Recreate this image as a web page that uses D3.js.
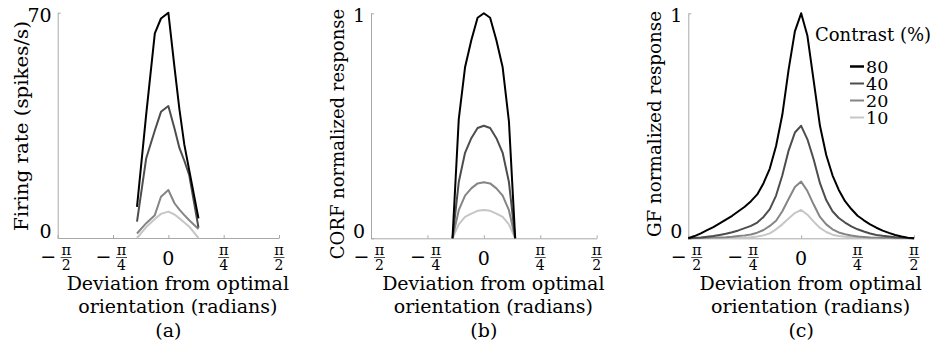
<!DOCTYPE html>
<html>
<head>
<meta charset="utf-8">
<script src="https://cdn.jsdelivr.net/npm/d3@7"></script>
<style>
  body { margin: 0; background: #fff; }
  svg { display: block; font-family: "DejaVu Serif", serif; }
</style>
</head>
<body>
<svg id="chart" width="938" height="347"></svg>
<script>
//
// Data
//
// Angles are in degrees (deviation from optimal orientation).

const contrasts = [80, 40, 20, 10];
const xTickValues = [-Math.PI / 2, -Math.PI / 4, 0, Math.PI / 4, Math.PI / 2];
const xTickLabels = ["-π/2", "-π/4", "0", "π/4", "π/2"];

// (a) recorded firing rate, spikes/s
const anglesA = [-25.5, -18, -11, -6, 0, 5, 9, 13, 17, 24.5];
const rateA80 = [9.7, 38.5, 63.6, 68.2, 70, 53, 40, 29, 21, 6.1];
const rateA40 = [5.1, 24.8, 33.4, 39.2, 41, 34, 28, 24, 19.5, 3.2];
const rateA20 = [1.4, 4.6, 7.1, 12.8, 14.9, 10.8, 8.8, 7.1, 5.5, 2.8];
const rateA10 = [0, 3.4, 5.9, 7.5, 8.2, 7.3, 6.1, 4.8, 3.5, 0];

// (b) CORF normalized response
const anglesB = [-25, -20, -15, -10, -5, 0, 5, 10, 15, 20, 25];
const corfB80 = [0, 0.53, 0.76, 0.88, 0.98, 1, 0.98, 0.88, 0.76, 0.52, 0];
const corfB40 = [0, 0.25, 0.38, 0.445, 0.49, 0.5, 0.49, 0.445, 0.38, 0.25, 0];
const corfB20 = [0, 0.125, 0.19, 0.222, 0.244, 0.249, 0.244, 0.222, 0.19, 0.125, 0];
const corfB10 = [0, 0.062, 0.095, 0.11, 0.122, 0.126, 0.122, 0.11, 0.095, 0.062, 0];

// (c) GF normalized response
const anglesC = [-90, -85, -80, -75, -70, -65, -60, -55, -50, -45, -40, -35, -30, -25, -20, -15, -10, -5, 0,
  5, 10, 15, 20, 25, 30, 35, 40, 45, 50, 55, 60, 65, 70, 75, 80, 85, 90];
const gfC80 = [0, 0.01, 0.022, 0.036, 0.05, 0.066, 0.083, 0.1, 0.12, 0.14, 0.165, 0.195, 0.245, 0.31, 0.41, 0.55, 0.75, 0.92, 1,
  0.9, 0.7, 0.5, 0.37, 0.28, 0.215, 0.165, 0.13, 0.1, 0.08, 0.062, 0.047, 0.034, 0.024, 0.015, 0.008, 0.003, 0];
const gfC40 = [0, 0.002, 0.004, 0.007, 0.01, 0.015, 0.02, 0.027, 0.035, 0.045, 0.055, 0.07, 0.095, 0.13, 0.19, 0.28, 0.39, 0.47, 0.5,
  0.44, 0.35, 0.245, 0.17, 0.12, 0.09, 0.07, 0.053, 0.04, 0.03, 0.021, 0.015, 0.011, 0.008, 0.005, 0.003, 0.001, 0];
const gfC20 = [0, 0.001, 0.001, 0.002, 0.003, 0.004, 0.005, 0.007, 0.01, 0.013, 0.017, 0.025, 0.037, 0.055, 0.078, 0.12, 0.175, 0.228, 0.252,
  0.21, 0.15, 0.095, 0.062, 0.04, 0.026, 0.018, 0.012, 0.008, 0.006, 0.004, 0.003, 0.002, 0.002, 0.001, 0.001, 0.001, 0];
const gfC10 = [0, 0, 0.001, 0.001, 0.001, 0.001, 0.002, 0.002, 0.003, 0.003, 0.005, 0.008, 0.013, 0.022, 0.04, 0.062, 0.088, 0.112, 0.126,
  0.105, 0.074, 0.046, 0.028, 0.016, 0.01, 0.007, 0.005, 0.003, 0.002, 0.002, 0.001, 0.001, 0.001, 0, 0, 0, 0];

//
// Layout
//

const color = d3.scaleOrdinal()
  .domain(contrasts)
  .range(["#000000", "#4d4d4d", "#858585", "#c6c6c6"]);

const panels = [
  {
    tag: "(a)", left: 57.7, right: 279, top: 12.7, bottom: 238, ymax: 70,
    yTicks: ["0", "70"], ylabel: "Firing rate (spikes/s)", ylabelX: 28, ylabelY: 126, ylabelLen: 210,
    angles: anglesA, series: [rateA80, rateA40, rateA20, rateA10],
  },
  {
    tag: "(b)", left: 371, right: 596.7, top: 13.3, bottom: 238.3, ymax: 1,
    yTicks: ["0", "1"], ylabel: "CORF normalized response", ylabelX: 344, ylabelY: 134, ylabelSize: 18,
    angles: anglesB, series: [corfB80, corfB40, corfB20, corfB10],
  },
  {
    tag: "(c)", left: 688.3, right: 914, top: 13.3, bottom: 238.3, ymax: 1,
    yTicks: ["0", "1"], ylabel: "GF normalized response", ylabelX: 661, ylabelY: 124, ylabelLen: 226,
    angles: anglesC, series: [gfC80, gfC40, gfC20, gfC10],
  },
];

const svg = d3.select("#chart");
svg.append("rect").attr("width", 938).attr("height", 347).attr("fill", "#fff");

//
// Panels
//

function mkxlabel(g, label, cx) {
  const neg = label.startsWith("-");
  const body = neg ? label.slice(1) : label;
  if (body.indexOf("/") < 0) {
    g.append("text").attr("x", cx).attr("y", 264.5)
      .attr("text-anchor", "middle").attr("font-size", 19).text(body);
    return;
  }
  const [num, den] = body.split("/");
  const fx = neg ? cx + 8.5 : cx;
  if (neg) {
    g.append("text").attr("x", cx - 9.5).attr("y", 263)
      .attr("text-anchor", "middle").attr("font-size", 19).text("−");
  }
  g.append("text").attr("x", fx).attr("y", 255)
    .attr("text-anchor", "middle").attr("font-size", 14.5).text(num);
  g.append("line")
    .attr("x1", fx - 5.5).attr("x2", fx + 5.5)
    .attr("y1", 257.5).attr("y2", 257.5)
    .attr("stroke", "#222").attr("stroke-width", 0.8);
  g.append("text").attr("x", fx).attr("y", 270)
    .attr("text-anchor", "middle").attr("font-size", 14).text(den);
}

function mkpanel(p) {
  const g = svg.append("g");
  const x = d3.scaleLinear().domain([-Math.PI / 2, Math.PI / 2]).range([p.left, p.right]);
  const y = d3.scaleLinear().domain([0, p.ymax]).range([p.bottom, p.top]);

  // axes, light grey with short inward ticks
  const xa = g.append("g")
    .attr("transform", `translate(0,${p.bottom})`)
    .call(d3.axisBottom(x).tickValues(xTickValues).tickSizeInner(-3).tickSizeOuter(0).tickFormat(""));
  const ya = g.append("g")
    .attr("transform", `translate(${p.left},0)`)
    .call(d3.axisLeft(y).tickValues([0, p.ymax]).tickSizeInner(-3).tickSizeOuter(0).tickFormat(""));
  [xa, ya].forEach((a) => {
    a.selectAll("path, line").attr("stroke", "#a8a8a8").attr("stroke-width", 1);
  });

  // curves, light ones first so black sits on top
  const line = d3.line()
    .x((d, i) => x((p.angles[i] * Math.PI) / 180))
    .y((d) => y(d));
  g.selectAll("path.curve")
    .data(p.series.map((s, i) => ({ contrast: contrasts[i], values: s })).reverse())
    .enter()
    .append("path")
    .attr("class", "curve")
    .attr("d", (d) => line(d.values))
    .attr("fill", "none")
    .attr("stroke", (d) => color(d.contrast))
    .attr("stroke-width", 2)
    .attr("stroke-linejoin", "round");

  // y tick labels
  g.append("text").attr("x", p.left - 6).attr("y", p.bottom)
    .attr("text-anchor", "end").attr("font-size", 19).text(p.yTicks[0]);
  g.append("text").attr("x", p.left - 6).attr("y", p.top + 9)
    .attr("text-anchor", "end").attr("font-size", 19).text(p.yTicks[1]);

  // x tick labels (fractions of pi)
  xTickValues.forEach((t, i) => mkxlabel(g, xTickLabels[i], x(t)));

  // axis titles and panel tag
  const mid = (p.left + p.right) / 2;
  g.append("text").attr("x", mid + 9.5).attr("y", 289.5)
    .attr("text-anchor", "middle").attr("font-size", 19).text("Deviation from optimal");
  g.append("text").attr("x", mid + 9.5).attr("y", 313)
    .attr("text-anchor", "middle").attr("font-size", 19).text("orientation (radians)");
  g.append("text").attr("x", mid).attr("y", 336.5)
    .attr("text-anchor", "middle").attr("font-size", 19).text(p.tag);
  const yl = g.append("text")
    .attr("transform", `translate(${p.ylabelX},${p.ylabelY}) rotate(-90)`)
    .attr("text-anchor", "middle").attr("font-size", p.ylabelSize || 19)
    .text(p.ylabel);
  if (p.ylabelLen) {
    yl.attr("textLength", p.ylabelLen).attr("lengthAdjust", "spacingAndGlyphs");
  }
}

panels.forEach(mkpanel);

//
// Legend
//

const legend = svg.append("g");
legend.append("text").attr("x", 815).attr("y", 41).attr("font-size", 18).text("Contrast (%)");
const item = legend.selectAll("g.item")
  .data(contrasts)
  .enter()
  .append("g")
  .attr("class", "item")
  .attr("transform", (d, i) => `translate(850,${66.5 + i * 17})`);
item.append("line")
  .attr("x1", 0).attr("x2", 14)
  .attr("stroke", (d) => color(d))
  .attr("stroke-width", (d) => (d === 80 ? 2.5 : 2));
item.append("text")
  .attr("x", 16).attr("y", 6.5)
  .attr("font-size", 17.5)
  .text((d) => d);
</script>
</body>
</html>
